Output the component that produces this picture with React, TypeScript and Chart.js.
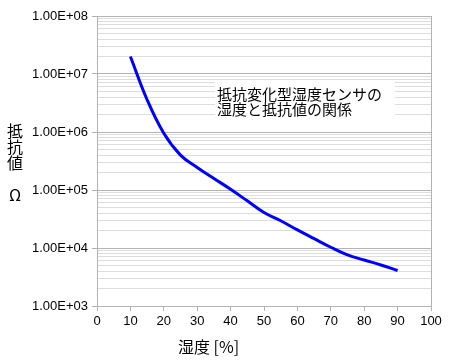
import React, { useEffect, useRef } from "react";
import { Chart, registerables } from "chart.js";

Chart.register(...registerables);

// ---- data ----
const humidity = [10, 15, 20, 25, 30, 35, 40, 45, 50, 55, 60, 65, 70, 75, 80, 85, 90];
const resistance = [
  2.0e7, 3.6e6, 9.5e5, 4.0e5, 2.45e5, 1.58e5, 1.03e5, 6.5e4, 4.1e4, 2.95e4,
  2.05e4, 1.45e4, 1.03e4, 7.6e3, 6.2e3, 5.1e3, 4.1e3,
];
const xTickValues = [0, 10, 20, 30, 40, 50, 60, 70, 80, 90, 100];
const yDecades = [1e3, 1e4, 1e5, 1e6, 1e7, 1e8];
const yMinorSignificands = [2, 3, 4, 5, 6, 7, 8, 9];
const yTitleLines = ["抵", "抗", "値", "", "Ω"];
const xTitle = "湿度 [%]";
const noteLines = ["抵抗変化型湿度センサの", "湿度と抵抗値の関係"];

const isMajor = (v: number) => Math.abs(Math.log10(v) - Math.round(Math.log10(v))) < 1e-9;
const fmtSci = (v: number) => {
  const e = Math.round(Math.log10(v));
  const m = v / Math.pow(10, e);
  const sign = e < 0 ? "-" : "+";
  return m.toFixed(2) + "E" + sign + String(Math.abs(e)).padStart(2, "0");
};

const LATIN = "'Liberation Sans', Arial, sans-serif";
const CJK = "'Noto Sans CJK JP', 'Liberation Sans', sans-serif";

const decorPlugin = {
  id: "decor",
  afterDraw(chart: any) {
    const { ctx, chartArea } = chart;
    ctx.save();
    // right border of plot area
    ctx.strokeStyle = "#b3b3b3";
    ctx.lineWidth = 1;
    ctx.beginPath();
    ctx.moveTo(Math.round(chartArea.right) + 0.5, chartArea.top);
    ctx.lineTo(Math.round(chartArea.right) + 0.5, chartArea.bottom);
    ctx.stroke();

    // note box
    ctx.fillStyle = "#ffffff";
    ctx.fillRect(215, 80, 180, 40);
    ctx.fillStyle = "#000000";
    ctx.font = "15px " + CJK;
    ctx.textAlign = "left";
    ctx.textBaseline = "middle";
    noteLines.forEach((line, i) => ctx.fillText(line, 217, 94 + i * 15));

    // y title (stacked)
    ctx.font = "16px " + CJK;
    ctx.textAlign = "center";
    yTitleLines.forEach((ch, i) => {
      if (ch) ctx.fillText(ch, 15, 131 + i * 16);
    });

    // x title
    ctx.font = "16px " + CJK;
    ctx.textAlign = "center";
    ctx.fillText(xTitle, 208.5, 347);
    ctx.restore();
  },
};

export default function App() {
  const ref = useRef<HTMLCanvasElement | null>(null);

  useEffect(() => {
    if (!ref.current) return;
    const chart = new Chart(ref.current, {
      type: "line",
      data: {
        datasets: [
          {
            data: humidity.map((h, i) => ({ x: h, y: resistance[i] })),
            borderColor: "#0000ff",
            backgroundColor: "#0000ff",
            borderWidth: 3,
            pointRadius: 0,
            tension: 0.4,
            fill: false,
          },
        ],
      },
      options: {
        animation: false,
        responsive: false,
        devicePixelRatio: 1,
        layout: { padding: { left: 0, top: 16, right: 20, bottom: 0 } },
        plugins: {
          legend: { display: false },
          tooltip: { enabled: false },
          title: { display: false },
        },
        scales: {
          x: {
            type: "linear",
            min: 0,
            max: 100,
            afterBuildTicks: (scale: any) => {
              scale.ticks = xTickValues.map((v) => ({ value: v }));
            },
            afterFit: (scale: any) => {
              scale.height = 56;
            },
            ticks: {
              autoSkip: false,
              maxRotation: 0,
              padding: 3,
              color: "#000000",
              font: { family: LATIN, size: 13 },
            },
            grid: {
              display: true,
              drawOnChartArea: false,
              drawTicks: true,
              tickLength: 5,
              color: "#b3b3b3",
            },
            border: { display: true, color: "#b3b3b3" },
          },
          y: {
            type: "logarithmic",
            min: 1e3,
            max: 1e8,
            afterBuildTicks: (scale: any) => {
              const t: any[] = [];
              yDecades.forEach((d, i) => {
                t.push({ value: d, major: true });
                if (i < yDecades.length - 1) {
                  yMinorSignificands.forEach((s) => t.push({ value: s * d, major: false }));
                }
              });
              scale.ticks = t;
            },
            afterFit: (scale: any) => {
              scale.width = 97;
            },
            ticks: {
              autoSkip: false,
              padding: 4,
              color: "#000000",
              font: { family: LATIN, size: 13 },
              callback: (v: any) => (isMajor(Number(v)) ? fmtSci(Number(v)) : ""),
            },
            grid: {
              display: true,
              drawTicks: true,
              tickLength: 5,
              color: (c: any) => (c.tick && isMajor(c.tick.value) ? "#b3b3b3" : "#dddddd"),
              tickColor: (c: any) =>
                c.tick && isMajor(c.tick.value) ? "#b3b3b3" : "rgba(0,0,0,0)",
            },
            border: { display: true, color: "#b3b3b3" },
          },
        },
      },
      plugins: [decorPlugin],
    } as any);
    return () => chart.destroy();
  }, []);

  return (
    <div style={{ position: "absolute", left: 0, top: 0, width: 451, height: 362, background: "#fff" }}>
      <canvas ref={ref} width={451} height={362} />
    </div>
  );
}
